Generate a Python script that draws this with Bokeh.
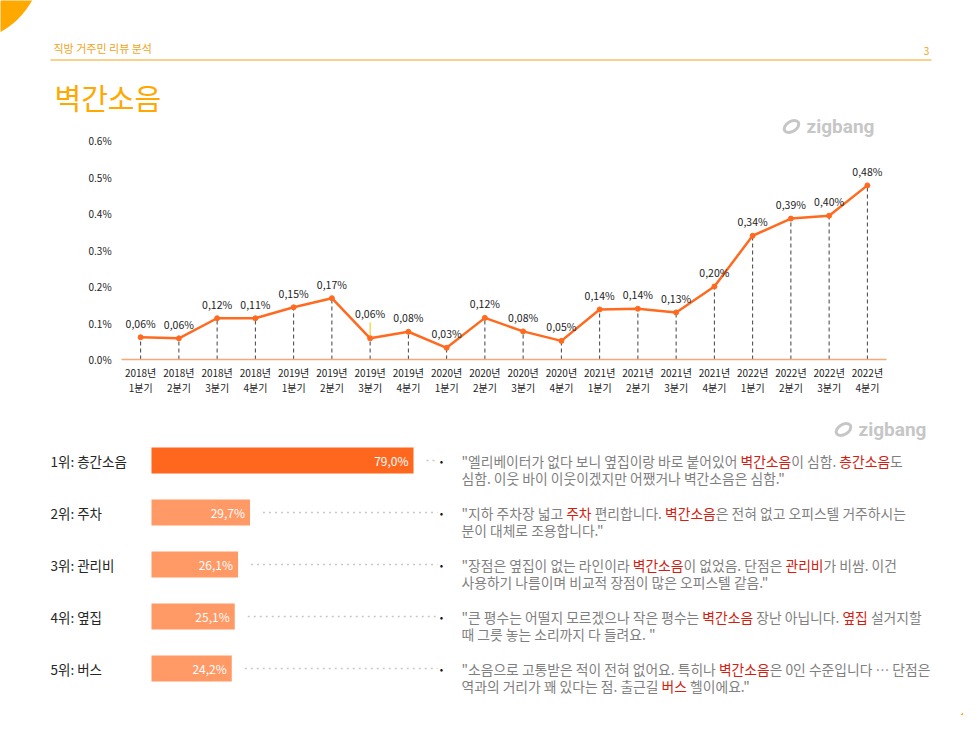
import numpy as np
from bokeh.plotting import figure
from bokeh.models import Range1d, ColumnDataSource, CustomJS
from bokeh.document import Document
from bokeh.core.properties import value
from bokeh.embed import file_html
from bokeh.resources import INLINE

# ---------------- data ----------------
periods = ["2018년 1분기", "2018년 2분기", "2018년 3분기", "2018년 4분기",
           "2019년 1분기", "2019년 2분기", "2019년 3분기", "2019년 4분기",
           "2020년 1분기", "2020년 2분기", "2020년 3분기", "2020년 4분기",
           "2021년 1분기", "2021년 2분기", "2021년 3분기", "2021년 4분기",
           "2022년 1분기", "2022년 2분기", "2022년 3분기", "2022년 4분기"]
rates = [0.061, 0.058, 0.113, 0.113, 0.143, 0.168, 0.058, 0.076, 0.032, 0.114,
         0.077, 0.051, 0.137, 0.139, 0.129, 0.200, 0.339, 0.386, 0.394, 0.477]
rate_labels = ["0,06%", "0,06%", "0,12%", "0,11%", "0,15%", "0,17%", "0,06%", "0,08%",
               "0,03%", "0,12%", "0,08%", "0,05%", "0,14%", "0,14%", "0,13%", "0,20%",
               "0,34%", "0,39%", "0,40%", "0,48%"]
y_ticks = [0.0, 0.1, 0.2, 0.3, 0.4, 0.5, 0.6]
y_tick_labels = ["0.0%", "0.1%", "0.2%", "0.3%", "0.4%", "0.5%", "0.6%"]

ranks = ["1위: 층간소음", "2위: 주차", "3위: 관리비", "4위: 옆집", "5위: 버스"]
shares = [79.0, 29.7, 26.1, 25.1, 24.2]
share_labels = ["79,0%", "29,7%", "26,1%", "25,1%", "24,2%"]

quotes = [
    [[('"엘리베이터가 없다 보니 옆집이랑 바로 붙어있어 ', 0), ('벽간소음', 1), ('이 심함. ', 0), ('층간소음', 1), ('도', 0)],
     [('심함. 이웃 바이 이웃이겠지만 어쨌거나 벽간소음은 심함."', 0)]],
    [[('"지하 주차장 넓고 ', 0), ('주차', 1), (' 편리합니다. ', 0), ('벽간소음', 1), ('은 전혀 없고 오피스텔 거주하시는', 0)],
     [('분이 대체로 조용합니다."', 0)]],
    [[('"장점은 옆집이 없는 라인이라 ', 0), ('벽간소음', 1), ('이 없었음. 단점은 ', 0), ('관리비', 1), ('가 비쌈. 이건', 0)],
     [('사용하기 나름이며 비교적 장점이 많은 오피스텔 같음."', 0)]],
    [[('"큰 평수는 어떨지 모르겠으나 작은 평수는 ', 0), ('벽간소음', 1), (' 장난 아닙니다. ', 0), ('옆집', 1), (' 설거지할', 0)],
     [('때 그릇 놓는 소리까지 다 들려요. "', 0)]],
    [[('"소음으로 고통받은 적이 전혀 없어요. 특히나 ', 0), ('벽간소음', 1), ('은 0인 수준입니다 ⋯ 단점은', 0)],
     [('역과의 거리가 꽤 있다는 점. 출근길 ', 0), ('버스', 1), (' 헬이에요."', 0)]],
]

# ---------------- layout helpers ----------------
W, H = 963, 715

KR = value("Noto Sans CJK KR")
ORANGE = "#FFA800"
HEAD = "#F2A31B"
LINE_C = "#FF6A1F"

p = figure(width=W, height=H, x_range=Range1d(0, W), y_range=Range1d(H, 0),
           output_backend="svg", toolbar_location=None, x_axis_type=None, y_axis_type=None,
           min_border=0, min_border_left=0, min_border_right=0, min_border_top=0, min_border_bottom=0,
           outline_line_color=None, background_fill_color="white", border_fill_color="white")

# line chart scales
n = len(periods)
step = (886 - 121) / n
x0px = 121 + step / 2
k = (359 - 140) / 0.6
y0px = 359
p.extra_x_ranges["qx"] = Range1d(-x0px / step, (W - x0px) / step)
p.extra_y_ranges["pct"] = Range1d((y0px - H) / k, y0px / k)

# bar scale
bx0 = 151
bk = (413 - 151) / 79.0
p.extra_x_ranges["bar"] = Range1d(-bx0 / bk, (W - bx0) / bk)

# ---------------- decorations ----------------
t = np.linspace(0, np.pi / 2, 40)
cx, cy, r = -40, -40, 82
p.patch(np.r_[cx, cx + r * np.cos(t)], np.r_[cy, cy + r * np.sin(t)],
        fill_color=ORANGE, line_color=None)
cx, cy, r = 900, 650, 88
p.patch(np.r_[cx + r * np.cos(t), cx, W + 50, W + 50], np.r_[cy + r * np.sin(t), H + 50, H + 50, cy],
        fill_color=ORANGE, line_color=None)

p.text(x=[53], y=[47], text=["직방 거주민 리뷰 분석"], text_font=KR, text_font_size="11px",
       text_color=HEAD, text_baseline="middle", text_align="left")
p.segment(x0=[50], y0=[59.5], x1=[931], y1=[59.5], line_color=HEAD, line_width=1.2)
p.text(x=[926], y=[50], text=["3"], text_font=KR, text_font_size="10px",
       text_color=HEAD, text_baseline="middle", text_align="center")
p.text(x=[54], y=[96], text=["벽간소음"], text_font=KR, text_font_size="29px",
       text_color=ORANGE, text_baseline="middle", text_align="left")

for lx, ly in [(782, 126), (834, 429)]:
    p.ellipse(x=[lx + 9], y=[ly], width=16, height=10, angle=0.55,
              fill_color=None, line_color="#C6C6C6", line_width=3)
    p.text(x=[lx + 24], y=[ly], text=["zigbang"], text_font=value("Roboto"),
           text_font_style="bold", text_font_size="19px", text_color="#C6C6C6",
           text_baseline="middle", text_align="left")

# ---------------- line chart ----------------
idx = list(range(n))
label_dy = [-14] * n
label_dy[6] = -25
src = ColumnDataSource(dict(x=idx, y=rates, lab=rate_labels, dy=label_dy,
                            yr=[s.split(" ")[0] for s in periods],
                            qt=[s.split(" ")[1] for s in periods]))

p.segment(x0="x", y0=0, x1="x", y1="y", source=src, x_range_name="qx", y_range_name="pct",
          line_color="#404040", line_dash="4 3", line_width=1)
p.segment(x0=[-0.5], y0=[0], x1=[n - 0.5], y1=[0], x_range_name="qx", y_range_name="pct",
          line_color="#F7A77A", line_width=1.5)
p.segment(x0=[6], y0=[rates[6] + 2 / k], x1=[6], y1=[rates[6] + 16 / k], x_range_name="qx",
          y_range_name="pct", line_color="#FFC000", line_width=1)
p.line(x="x", y="y", source=src, x_range_name="qx", y_range_name="pct",
       line_color=LINE_C, line_width=2.5)
p.scatter(x="x", y="y", source=src, x_range_name="qx", y_range_name="pct",
          size=5, fill_color=LINE_C, line_color=LINE_C)
p.text(x="x", y="y", text="lab", y_offset="dy", source=src, x_range_name="qx", y_range_name="pct",
       text_font=KR, text_font_size="10.5px", text_color="#222222",
       text_align="center", text_baseline="middle")
p.text(x="x", y=372, text="yr", source=src, x_range_name="qx",
       text_font=KR, text_font_size="10px", text_color="#222222",
       text_align="center", text_baseline="middle")
p.text(x="x", y=387, text="qt", source=src, x_range_name="qx",
       text_font=KR, text_font_size="10px", text_color="#222222",
       text_align="center", text_baseline="middle")
p.text(x=[88] * len(y_ticks), y=y_ticks, text=y_tick_labels, y_range_name="pct",
       text_font=KR, text_font_size="10px", text_color="#222222",
       text_align="left", text_baseline="middle")

# ---------------- bars ----------------
bar_y = [460 + 52 * i for i in range(len(ranks))]
bar_colors = ["#FF671F"] + ["#FF9966"] * (len(ranks) - 1)
p.hbar(y=bar_y, left=0, right=shares, height=26, x_range_name="bar",
       fill_color=bar_colors, line_color=None)
p.text(x=shares, y=bar_y, text=share_labels, x_offset=-5, x_range_name="bar",
       text_font=KR, text_font_size="12px", text_color="white",
       text_align="right", text_baseline="middle")
p.text(x=[50] * len(ranks), y=bar_y, text=ranks, text_font=KR, text_font_size="13.5px",
       text_color="#262626", text_align="left", text_baseline="middle")
leader_end = (437 - bx0) / bk
p.segment(x0=[s + 13 / bk for s in shares], y0=bar_y, x1=[leader_end] * len(shares), y1=bar_y,
          x_range_name="bar", line_color="#C8C8C8", line_dash="2 4", line_width=1.5)
p.text(x=[441] * len(ranks), y=bar_y, text=["•"] * len(ranks), text_font=KR,
       text_font_size="10px", text_color="#111111", text_align="center", text_baseline="middle")

# ---------------- quotes ----------------
QFS = 13.8
def est_width(s, fs):
    w = 0.0
    for ch in s:
        o = ord(ch)
        if 0xAC00 <= o <= 0xD7A3 or 0x3000 <= o <= 0x9FFF or ch in "⋯…":
            w += 0.88
        elif ch == " ":
            w += 0.224
        elif ch in ".,:;":
            w += 0.276
        elif ch == '"':
            w += 0.40
        elif ch.isdigit():
            w += 0.555
        else:
            w += 0.55
    return w * fs

xs, x0s, ys, ts, cs, lids = [], [], [], [], [], []
for qi, q in enumerate(quotes):
    for li, line in enumerate(q):
        cur = 461
        for seg, hl in line:
            lead = len(seg) - len(seg.lstrip(" "))
            xs.append(cur + est_width(" " * lead, QFS))
            x0s.append(461)
            ys.append(bar_y[qi] + 17 * li)
            ts.append(seg)
            cs.append("#D2200F" if hl else "#7F7F7F")
            lids.append(f"{qi}-{li}")
            cur += est_width(seg, QFS)
qsrc = ColumnDataSource(dict(x=xs, x0=x0s, y=ys, text=ts, color=cs, line=lids))
p.text(x="x", y="y", text="text", text_color="color", source=qsrc, text_font=KR,
       text_font_size=f"{QFS}px", text_align="left", text_baseline="middle")

# place each coloured segment right after the previous one, using the browser's text metrics
# (leading spaces are collapsed by SVG, so they are turned into an x shift)
layout_js = CustomJS(args=dict(src=qsrc, fs=QFS), code="""
const d = src.data;
const ctx = document.createElement('canvas').getContext('2d');
ctx.font = fs + 'px "Noto Sans CJK KR"';
const cur = {};
const xs = [];
for (let i = 0; i < d.text.length; i++) {
  const key = d.line[i];
  if (!(key in cur)) cur[key] = d.x0[i];
  const s = d.text[i];
  const lead = s.length - s.replace(/^ +/, '').length;
  const leadW = lead > 0 ? ctx.measureText(' '.repeat(lead)).width : 0;
  xs.push(cur[key] + leadW);
  cur[key] += ctx.measureText(s).width;
}
d.x = xs;
src.change.emit();
""")

doc = Document()
doc.add_root(p)
doc.js_on_event("document_ready", layout_js)

open("out.html", "w").write(file_html(doc, INLINE))
